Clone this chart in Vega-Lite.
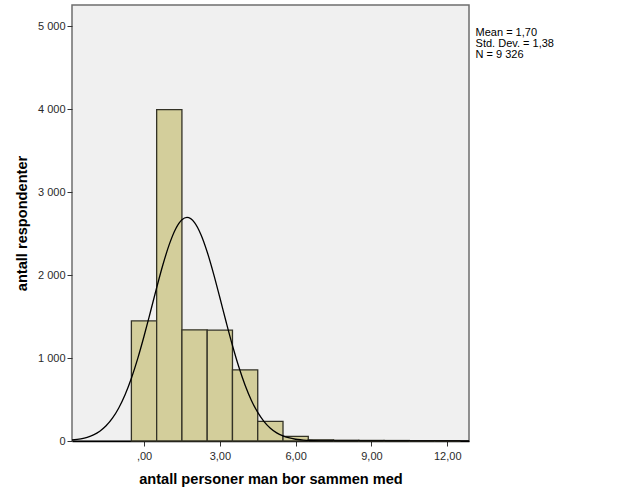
{
  "$schema": "https://vega.github.io/schema/vega-lite/v6.json",
  "width": 397,
  "height": 436,
  "autosize": "none",
  "padding": {"left": 72, "top": 5, "right": 157, "bottom": 60},
  "background": "white",
  "config": {
    "view": {"fill": "#f0f0f0", "stroke": "#6e6e6e", "strokeWidth": 1.5},
    "font": "Liberation Sans"
  },
  "datasets": {
    "bars": [
      {"value": 0, "x0": -0.5, "x1": 0.5, "count": 1448},
      {"value": 1, "x0": 0.5, "x1": 1.5, "count": 3995},
      {"value": 2, "x0": 1.5, "x1": 2.5, "count": 1340},
      {"value": 3, "x0": 2.5, "x1": 3.5, "count": 1336},
      {"value": 4, "x0": 3.5, "x1": 4.5, "count": 857},
      {"value": 5, "x0": 4.5, "x1": 5.5, "count": 236},
      {"value": 6, "x0": 5.5, "x1": 6.5, "count": 55},
      {"value": 7, "x0": 6.5, "x1": 7.5, "count": 14},
      {"value": 8, "x0": 7.5, "x1": 8.5, "count": 9},
      {"value": 9, "x0": 8.5, "x1": 9.5, "count": 7},
      {"value": 10, "x0": 9.5, "x1": 10.5, "count": 6},
      {"value": 11, "x0": 10.5, "x1": 11.5, "count": 1},
      {"value": 12, "x0": 11.5, "x1": 12.5, "count": 1}
    ],
    "curve": [
      {"x": -2.85, "y": 11.8}, {"x": -2.5, "y": 26.3}, {"x": -2.25, "y": 44.9},
      {"x": -2.0, "y": 74.1}, {"x": -1.75, "y": 118.5}, {"x": -1.5, "y": 183.3},
      {"x": -1.25, "y": 274.4}, {"x": -1.0, "y": 397.6}, {"x": -0.75, "y": 557.5},
      {"x": -0.5, "y": 756.6}, {"x": -0.25, "y": 993.4}, {"x": 0.0, "y": 1262.3},
      {"x": 0.25, "y": 1552.3}, {"x": 0.5, "y": 1847.3}, {"x": 0.75, "y": 2127.3},
      {"x": 1.0, "y": 2370.5}, {"x": 1.25, "y": 2556.4}, {"x": 1.5, "y": 2667.8},
      {"x": 1.7, "y": 2696.0}, {"x": 2.0, "y": 2633.0}, {"x": 2.25, "y": 2490.2},
      {"x": 2.5, "y": 2279.0}, {"x": 2.75, "y": 2018.4}, {"x": 3.0, "y": 1729.8},
      {"x": 3.25, "y": 1434.7}, {"x": 3.5, "y": 1151.5}, {"x": 3.75, "y": 894.4},
      {"x": 4.0, "y": 672.3}, {"x": 4.25, "y": 489.0}, {"x": 4.5, "y": 344.2},
      {"x": 4.75, "y": 234.4}, {"x": 5.0, "y": 154.5}, {"x": 5.25, "y": 98.0},
      {"x": 5.5, "y": 60.9}, {"x": 6.0, "y": 21.0}, {"x": 6.5, "y": 6.4},
      {"x": 7.0, "y": 1.7}, {"x": 8.0, "y": 0.1}, {"x": 9.0, "y": 0.0},
      {"x": 12.86, "y": 0.0}
    ],
    "stats": [
      {"label": "Mean = 1,70\nStd. Dev. = 1,38\nN = 9 326", "sx": 13.12, "sy": 4985}
    ]
  },
  "layer": [
    {
      "data": {"name": "bars"},
      "mark": {"type": "rect", "fill": "#d3ce9b", "stroke": "#333226", "strokeWidth": 1.3},
      "encoding": {
        "x": {
          "field": "x0", "type": "quantitative",
          "scale": {"domain": [-2.85, 12.86], "nice": false, "zero": false},
          "axis": {
            "values": [0, 3, 6, 9, 12],
            "labelExpr": "datum.value == 0 ? ',00' : replace(format(datum.value, '.2f'), '.', ',')",
            "grid": false,
            "domainColor": "#000000",
            "domainWidth": 1.5,
            "tickColor": "#333333",
            "tickSize": 5,
            "labelFont": "Liberation Sans",
            "labelFontSize": 11,
            "labelColor": "#2a2a2a",
            "labelPadding": 4,
            "title": "antall personer man bor sammen med",
            "titleFont": "Liberation Sans",
            "titleFontSize": 14.6,
            "titleFontWeight": "bold",
            "titleColor": "#000000",
            "titlePadding": 10
          }
        },
        "x2": {"field": "x1"},
        "y": {
          "field": "count", "type": "quantitative",
          "scale": {"domain": [0, 5256], "nice": false},
          "axis": {
            "values": [0, 1000, 2000, 3000, 4000, 5000],
            "labelExpr": "replace(format(datum.value, ','), ',', ' ')",
            "grid": false,
            "domain": false,
            "tickColor": "#333333",
            "tickSize": 5,
            "labelFont": "Liberation Sans",
            "labelFontSize": 11,
            "labelColor": "#2a2a2a",
            "labelPadding": 2,
            "title": "antall respondenter",
            "titleFont": "Liberation Sans",
            "titleFontSize": 14.6,
            "titleFontWeight": "bold",
            "titleColor": "#000000",
            "titlePadding": 8
          }
        },
        "y2": {"datum": 0}
      }
    },
    {
      "data": {"name": "curve"},
      "mark": {"type": "line", "color": "#000000", "strokeWidth": 1.3, "interpolate": "monotone", "clip": true},
      "encoding": {
        "x": {"field": "x", "type": "quantitative"},
        "y": {"field": "y", "type": "quantitative"}
      }
    },
    {
      "data": {"name": "stats"},
      "mark": {"type": "text", "align": "left", "baseline": "top", "lineBreak": "\n", "lineHeight": 11, "fontSize": 11, "font": "Liberation Sans", "color": "#000000", "clip": false},
      "encoding": {
        "x": {"field": "sx", "type": "quantitative"},
        "y": {"field": "sy", "type": "quantitative"},
        "text": {"field": "label"}
      }
    }
  ]
}
